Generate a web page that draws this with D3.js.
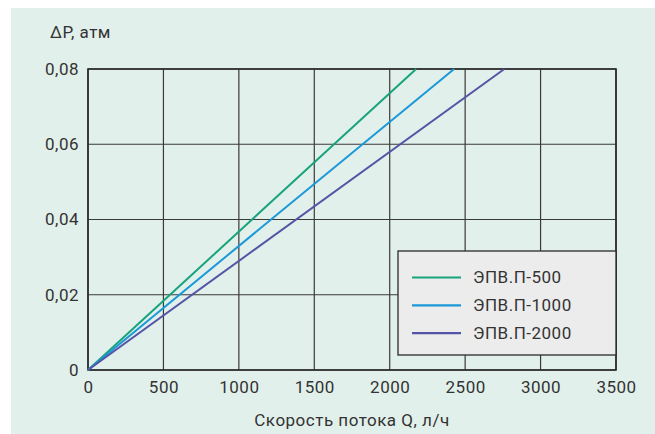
<!DOCTYPE html>
<html><head><meta charset="utf-8">
<script src="https://cdn.jsdelivr.net/npm/d3@7"></script>
<style>
html,body{margin:0;padding:0;background:#fff;}
svg text{font-family:Roboto,"Noto Sans",sans-serif;fill:#333;letter-spacing:0.5px;}
</style></head>
<body>
<svg id="chart" width="655" height="434"></svg>
<script>
const xTicks = [0, 500, 1000, 1500, 2000, 2500, 3000, 3500];
const yTicks = [0, 0.02, 0.04, 0.06, 0.08];
const seriesNames = ["ЭПВ.П-500", "ЭПВ.П-1000", "ЭПВ.П-2000"];
const seriesColors = ["#17a37c", "#1a98d8", "#5453a6"];
// endpoints of each straight line [Q, ΔP]
const flow500 = [0, 2175];
const dp500 = [0, 0.08];
const flow1000 = [0, 2427];
const dp1000 = [0, 0.08];
const flow2000 = [0, 2760];
const dp2000 = [0, 0.08];
const xTitle = "Скорость потока Q, л/ч";
const yTitle = "ΔP, атм";

const series = [
  {name: seriesNames[0], color: seriesColors[0], pts: flow500.map((q,i)=>[q, dp500[i]])},
  {name: seriesNames[1], color: seriesColors[1], pts: flow1000.map((q,i)=>[q, dp1000[i]])},
  {name: seriesNames[2], color: seriesColors[2], pts: flow2000.map((q,i)=>[q, dp2000[i]])}
];

const FS = 17;
const svg = d3.select("#chart");
svg.append("rect").attr("x", 11).attr("y", 8).attr("width", 644).attr("height", 426).attr("fill", "#e2f0eb");

const L = 88, R = 616, T = 69, B = 370;
const x = d3.scaleLinear().domain([0, 3500]).range([L, R]);
const y = d3.scaleLinear().domain([0, 0.08]).range([B, T]);
const fmt = d => d === 0 ? "0" : d3.format(".2f")(d).replace(".", ",");

// grid
const g = svg.append("g");
g.selectAll(".vx").data(xTicks).join("line")
  .attr("x1", d=>x(d)).attr("x2", d=>x(d)).attr("y1", T).attr("y2", B)
  .attr("stroke", "#3a3a3a").attr("stroke-width", 1.2);
g.selectAll(".hy").data(yTicks).join("line")
  .attr("y1", d=>y(d)).attr("y2", d=>y(d)).attr("x1", L).attr("x2", R)
  .attr("stroke", "#3a3a3a").attr("stroke-width", 1.2);
g.append("rect").attr("x", L).attr("y", T).attr("width", R-L).attr("height", B-T)
  .attr("fill", "none").attr("stroke", "#2a2a2a").attr("stroke-width", 1.6);

// axes labels via d3 axes
const xAxis = svg.append("g").attr("transform", `translate(0,${B})`)
  .call(d3.axisBottom(x).tickValues(xTicks).tickSize(0).tickPadding(11).tickFormat(d3.format("d")));
xAxis.select(".domain").remove();
xAxis.selectAll("text").attr("font-size", FS).attr("fill", "#333").style("font-family", "Roboto");

const yAxis = svg.append("g").attr("transform", `translate(${L},0)`)
  .call(d3.axisLeft(y).tickValues(yTicks).tickSize(0).tickPadding(9).tickFormat(fmt));
yAxis.select(".domain").remove();
yAxis.selectAll("text").attr("font-size", FS).attr("fill", "#333").style("font-family", "Roboto");

// lines
const line = d3.line().x(d=>x(d[0])).y(d=>y(d[1]));
svg.append("g").selectAll("path").data(series).join("path")
  .attr("d", d=>line(d.pts)).attr("fill", "none")
  .attr("stroke", d=>d.color).attr("stroke-width", 2);

// titles
svg.append("text").attr("x", 352).attr("y", 426).attr("text-anchor", "middle")
  .attr("font-size", FS).text(xTitle);
svg.append("text").attr("x", 50).attr("y", 38)
  .attr("font-size", FS).text(yTitle);

// legend
const lg = svg.append("g");
lg.append("rect").attr("x", 398).attr("y", 251).attr("width", R-398).attr("height", 104)
  .attr("fill", "#ececec").attr("stroke", "#2a2a2a").attr("stroke-width", 1.3);
series.forEach((s, i) => {
  const yy = 277.5 + i * 27.8;
  lg.append("line").attr("x1", 412).attr("x2", 461).attr("y1", yy).attr("y2", yy)
    .attr("stroke", s.color).attr("stroke-width", 2.2);
  lg.append("text").attr("x", 473).attr("y", yy).attr("dy", "0.35em")
    .attr("font-size", FS).text(s.name);
});
</script>
</body></html>
